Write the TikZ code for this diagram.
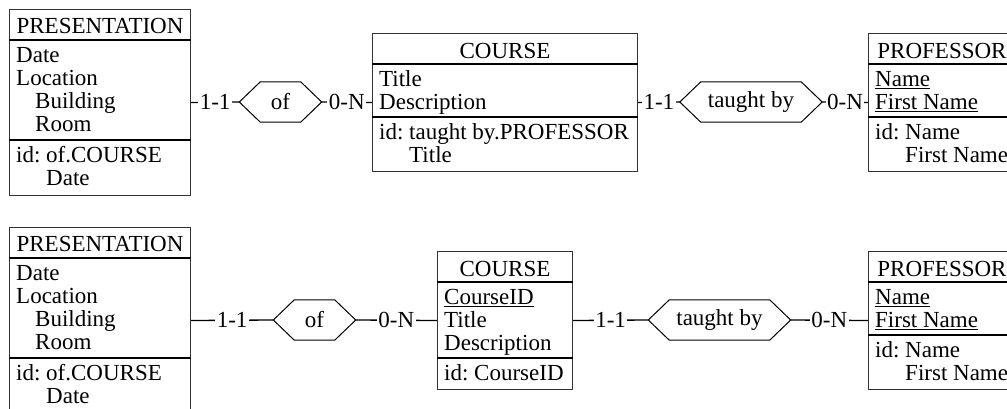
\documentclass[tikz,border=0pt]{standalone}
\usepackage{fontspec}
\setmainfont{Liberation Serif}
\usepackage{tikz}
\usetikzlibrary{positioning, calc}
\usepackage{xcolor}
\definecolor{boxGray}{HTML}{333333}
\frenchspacing

\newcommand{\erfont}{\fontsize{23}{23}\selectfont}
\newcommand{\attrind}{\hspace*{19pt}}
\newcommand{\idind}{\phantom{id: }}

\tikzset{
  entity/.style={draw=boxGray, line width=1pt, anchor=north west, inner sep=0pt},
  sepline/.style={line width=1.8pt},
  etitle/.style={anchor=base, font=\erfont},
  attrs/.style={anchor=north west, align=left, inner sep=0pt, font=\erfont},
  rel/.style={minimum height=40pt, inner sep=0pt, font=\erfont},
  link/.style={line width=1.3pt},
  card/.style={fill=white, inner sep=1.5pt, font=\erfont},
}

\begin{document}
\begin{tikzpicture}[x=1pt, y=-1pt]
    % Frame
    \useasboundingbox (0,0) rectangle (1007,408);
    \clip (0,0) rectangle (1007,408);

    % Entities
    \node[entity, minimum width=181pt, minimum height=186pt] (pres1) at (9,9) {};
    \node[entity, minimum width=265pt, minimum height=138pt] (course1) at (372,33) {};
    \node[entity, minimum width=147pt, minimum height=138pt] (prof1) at (868,33) {};
    \node[entity, minimum width=181pt, minimum height=186pt] (pres2) at (9,227) {};
    \node[entity, minimum width=135pt, minimum height=138pt] (course2) at (437,251) {};
    \node[entity, minimum width=147pt, minimum height=138pt] (prof2) at (868,251) {};

    % Separators
    \foreach \e/\off in {pres1/31, pres1/131, course1/31, course1/84, prof1/31, prof1/84,
                         pres2/31, pres2/131, course2/31, course2/107, prof2/31, prof2/84}
        \draw[sepline] ([yshift=-\off*1pt]\e.north west) -- ([yshift=-\off*1pt]\e.north east);

    % Titles
    \node[etitle] (pres1-t) at ([yshift=-24pt]pres1.north) {PRESENTATION};
    \node[etitle] (course1-t) at ([yshift=-25pt]course1.north) {COURSE};
    \node[etitle] (prof1-t) at ([yshift=-25pt]prof1.north) {PROFESSOR};
    \node[etitle] (pres2-t) at ([yshift=-24pt]pres2.north) {PRESENTATION};
    \node[etitle] (course2-t) at ([yshift=-25pt]course2.north) {COURSE};
    \node[etitle] (prof2-t) at ([yshift=-25pt]prof2.north) {PROFESSOR};

    % Attributes and identifiers
    \node[attrs] (pres1-a) at ([xshift=7pt, yshift=-37pt]pres1.north west) {\strut Date\\Location\\\attrind Building\\\attrind Room};
    \node[attrs] (pres1-i) at ([xshift=7pt, yshift=-137pt]pres1.north west) {\strut id: of.COURSE\\\idind Date};
    \node[attrs] (course1-a) at ([xshift=7pt, yshift=-37pt]course1.north west) {\strut Title\\Description};
    \node[attrs] (course1-i) at ([xshift=7pt, yshift=-90pt]course1.north west) {\strut id: taught by.PROFESSOR\\\idind Title};
    \node[attrs] (prof1-a) at ([xshift=7pt, yshift=-37pt]prof1.north west) {\strut\underline{Name}\\\underline{First Name}};
    \node[attrs] (prof1-i) at ([xshift=7pt, yshift=-90pt]prof1.north west) {\strut id: Name\\\idind First Name};

    \node[attrs] (pres2-a) at ([xshift=7pt, yshift=-37pt]pres2.north west) {\strut Date\\Location\\\attrind Building\\\attrind Room};
    \node[attrs] (pres2-i) at ([xshift=7pt, yshift=-137pt]pres2.north west) {\strut id: of.COURSE\\\idind Date};
    \node[attrs] (course2-a) at ([xshift=7pt, yshift=-37pt]course2.north west) {\strut\underline{CourseID}\\Title\\Description};
    \node[attrs] (course2-i) at ([xshift=7pt, yshift=-113pt]course2.north west) {\strut id: CourseID};
    \node[attrs] (prof2-a) at ([xshift=7pt, yshift=-37pt]prof2.north west) {\strut\underline{Name}\\\underline{First Name}};
    \node[attrs] (prof2-i) at ([xshift=7pt, yshift=-90pt]prof2.north west) {\strut id: Name\\\idind First Name};

    % Relationships
    \node[rel, minimum width=82pt] (of1) at (280.5,102) {of};
    \node[rel, minimum width=142pt] (taught1) at (751,102) {taught by};
    \node[rel, minimum width=82pt] (of2) at (314.5,320) {of};
    \node[rel, minimum width=142pt] (taught2) at (719.5,320) {taught by};
    \foreach \r in {of1, taught1, of2, taught2}
        \draw[line width=1pt] (\r.west) -- ([xshift=21pt]\r.north west) -- ([xshift=-21pt]\r.north east)
            -- (\r.east) -- ([xshift=-21pt]\r.south east) -- ([xshift=21pt]\r.south west) -- cycle;

    % Roles
    \draw[link] (pres1.east) -- node[card] (card1a) {1-1} (of1.west);
    \draw[link] (of1.east) -- node[card] (card1b) {0-N} (course1.west);
    \draw[link] (course1.east) -- node[card] (card1c) {1-1} (taught1.west);
    \draw[link] (taught1.east) -- node[card] (card1d) {0-N} (prof1.west);
    \draw[link] (pres2.east) -- node[card] (card2a) {1-1} (of2.west);
    \draw[link] (of2.east) -- node[card] (card2b) {0-N} (course2.west);
    \draw[link] (course2.east) -- node[card] (card2c) {1-1} (taught2.west);
    \draw[link] (taught2.east) -- node[card] (card2d) {0-N} (prof2.west);
\end{tikzpicture}
\end{document}
